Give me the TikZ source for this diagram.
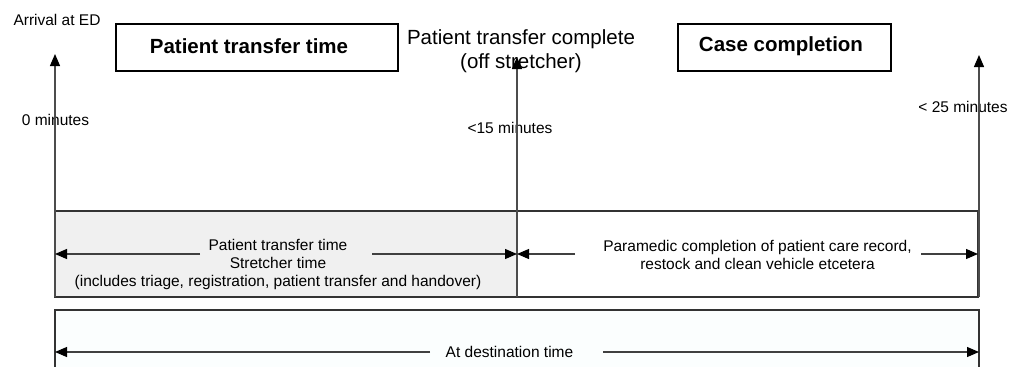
\documentclass[tikz,border=0pt]{standalone}
\usepackage{fontspec}
\setmainfont{Liberation Sans}
\usetikzlibrary{arrows.meta}
\tikzset{
  tip/.style={-{Triangle[length=12pt,width=10pt,color=black]}},
  small/.style={font=\fontsize{15.5}{18}\selectfont, inner sep=0pt, align=center},
  big/.style={font=\fontsize{20.5}{24}\selectfont, inner sep=0pt, align=center},
  titlebox/.style={draw=black, line width=1.8pt, fill=white},
  band/.style={draw=black!80, line width=1.2pt},
  vline/.style={draw=black!70, line width=1.3pt},
  hline/.style={draw=black!75, line width=1.1pt},
}
\begin{document}
\begin{tikzpicture}[x=1pt,y=-1pt]
\useasboundingbox (0,0) rectangle (1021,367);
% bands
\path[band, fill=black!6] (55,211) rectangle (517,297);
\path[band, fill=white] (517,211) rectangle (978,297);
\path[fill={rgb,255:red,251;green,254;blue,254}] (55,310) -- (55,370) -- (979,370) -- (979,310) -- cycle;
\draw[band] (55,370) -- (55,310) -- (979,310) -- (979,370);
% coordinates for markers
\coordinate (l0) at (55,297);
\coordinate (l1) at (55,54);
\coordinate (m0) at (517,297);
\coordinate (m1) at (517,57);
\coordinate (r0) at (979,297);
\coordinate (r1) at (979,55);
% title boxes
\node[titlebox, minimum width=282pt, minimum height=47pt] (ptbox) at (257,47.5) {};
\node[big, font=\fontsize{20.5}{24}\selectfont\bfseries] (pttext) at (249,46.5) {Patient transfer time};
\node[titlebox, minimum width=213pt, minimum height=47pt] (ccbox) at (784.5,47.5) {};
\node[big, font=\fontsize{20.5}{24}\selectfont\bfseries] (cctext) at (781,46.5) {Case completion};
% labels
\node[small] (arr) at (57,20) {Arrival at ED};
\node[big] (ptc) at (521,51) {Patient transfer complete\\(off stretcher)};
\node[small] (z) at (55.5,120) {0 minutes};
\node[small] (f) at (510,128) {<15 minutes};
\node[small] (t) at (963,107) {< 25 minutes};
% vertical arrows
\draw[vline, tip] (l0) -- (l1);
\draw[vline, tip] (m0) -- (m1);
\draw[vline, tip] (r0) -- (r1);
% band 1
\node[small] (b1) at (278,264) {Patient transfer time\\Stretcher time\\(includes triage, registration, patient transfer and handover)};
\coordinate (b1l) at (200,254);
\coordinate (b1r) at (372,254);
\coordinate (b1le) at (55,254);
\coordinate (b1re) at (517,254);
\draw[hline, tip] (b1l) -- (b1le);
\draw[hline, tip] (b1r) -- (b1re);
% band 2
\node[small] (b2) at (757.5,255) {Paramedic completion of patient care record,\\restock and clean vehicle etcetera};
\coordinate (b2l) at (575,254);
\coordinate (b2r) at (921,254);
\coordinate (b2le) at (517,254);
\coordinate (b2re) at (978,254);
\draw[hline, tip] (b2l) -- (b2le);
\draw[hline, tip] (b2r) -- (b2re);
% band 3
\node[small] (b3) at (509.5,352) {At destination time};
\coordinate (b3l) at (430,352);
\coordinate (b3r) at (603,352);
\coordinate (b3le) at (55,352);
\coordinate (b3re) at (979,352);
\draw[hline, tip] (b3l) -- (b3le);
\draw[hline, tip] (b3r) -- (b3re);
\end{tikzpicture}
\end{document}
